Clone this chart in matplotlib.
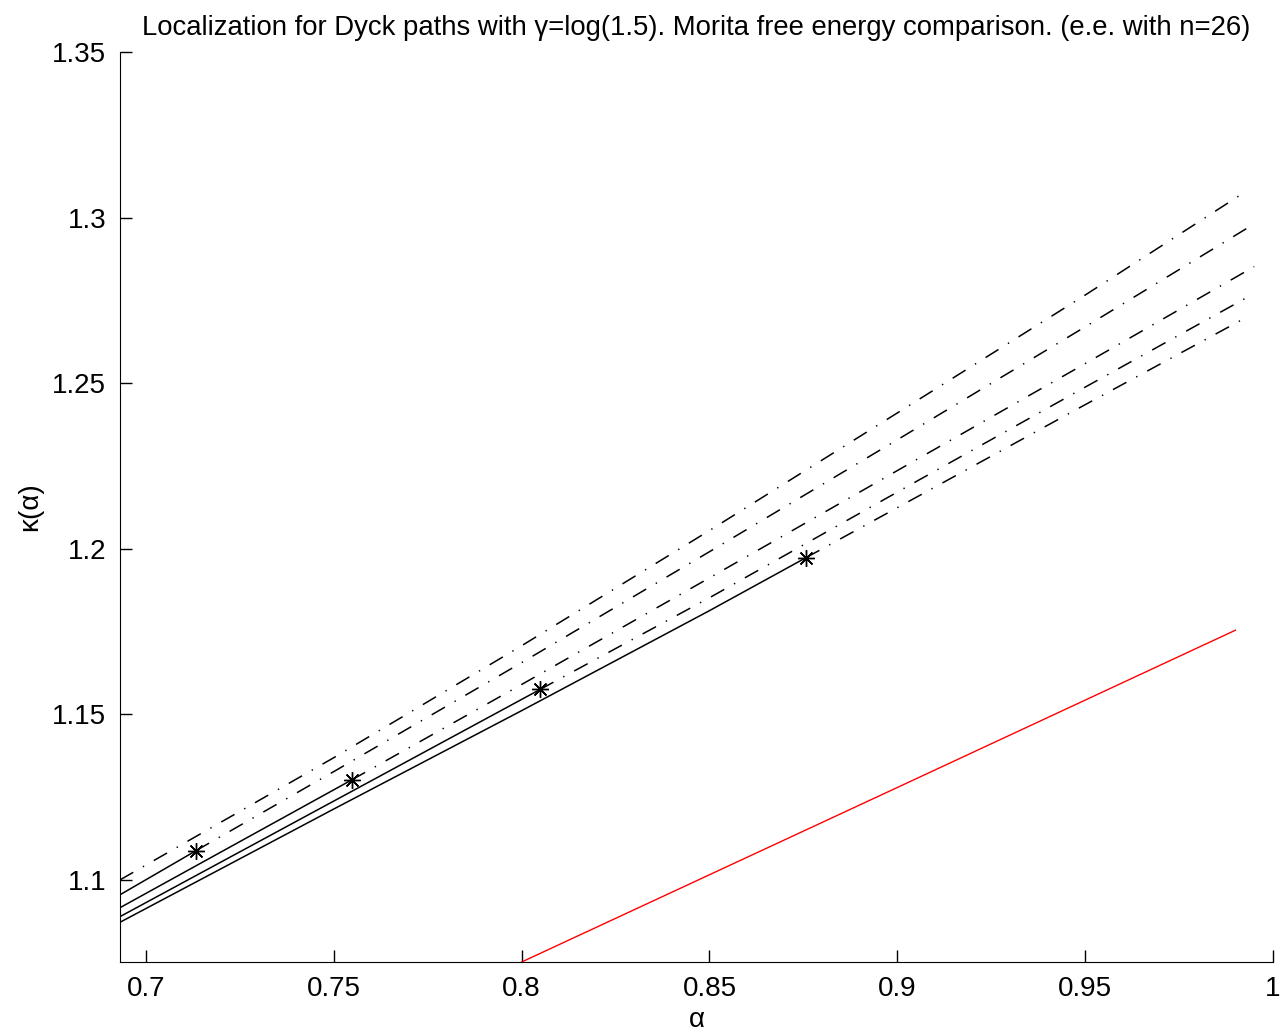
import matplotlib
matplotlib.use("Agg")
import matplotlib.pyplot as plt

plt.rcParams['font.family'] = ['Liberation Sans', 'DejaVu Sans']
plt.rcParams['lines.scale_dashes'] = False

# valores (alpha, kappa)
x_min = 0.6931
# linha 1: toda tracejada
l1_x = [0.6931, 0.75, 0.80, 0.85, 0.90, 0.95, 0.9932]
l1_y = [1.1000, 1.1369, 1.1707, 1.2055, 1.2410, 1.2766, 1.3082]
# linhas 2-5: parte cheia ate a estrela, depois tracejada
l2_sx = [0.6931, 0.7133]
l2_sy = [1.0955, 1.1088]
l2_dx = [0.7133, 0.75, 0.80, 0.85, 0.90, 0.95, 0.9947]
l2_dy = [1.1088, 1.1327, 1.1656, 1.1991, 1.2329, 1.2670, 1.2979]

l3_sx = [0.6931, 0.7548]
l3_sy = [1.0916, 1.1302]
l3_dx = [0.7548, 0.80, 0.85, 0.90, 0.95, 0.9950]
l3_dy = [1.1302, 1.1590, 1.1912, 1.2236, 1.2559, 1.2852]

l4_sx = [0.6931, 0.75, 0.8049]
l4_sy = [1.0889, 1.1238, 1.1575]
l4_dx = [0.8049, 0.85, 0.90, 0.95, 0.9931]
l4_dy = [1.1575, 1.1852, 1.2171, 1.2488, 1.2759]

l5_sx = [0.6931, 0.75, 0.80, 0.85, 0.8757]
l5_sy = [1.0872, 1.1214, 1.1511, 1.1813, 1.1973]
l5_dx = [0.8757, 0.90, 0.95, 0.9928]
l5_dy = [1.1973, 1.2124, 1.2435, 1.2698]

# estrelas
star_x = [0.7133, 0.7548, 0.8049, 0.8757]
star_y = [1.1088, 1.1302, 1.1575, 1.1973]

# curva de Morita (vermelha)
red_x = [0.80, 0.90, 0.99]
red_y = [1.0752, 1.1279, 1.1754]

xticks = [0.7, 0.75, 0.8, 0.85, 0.9, 0.95, 1]
yticks = [1.1, 1.15, 1.2, 1.25, 1.3, 1.35]

fig = plt.figure(figsize=(12.83, 10.32), dpi=100)
ax = fig.add_axes([0.0935, 0.0678, 0.8987, 0.8818])

dd = (0, (11, 8, 1, 8))
lw = 1.1
ax.plot(l1_x, l1_y, color='k', lw=lw, linestyle=dd)
for sx, sy, dx, dy in [(l2_sx, l2_sy, l2_dx, l2_dy), (l3_sx, l3_sy, l3_dx, l3_dy),
                       (l4_sx, l4_sy, l4_dx, l4_dy), (l5_sx, l5_sy, l5_dx, l5_dy)]:
    ax.plot(sx, sy, color='k', lw=lw)
    ax.plot(dx, dy, color='k', lw=lw, linestyle=dd)
ax.plot(star_x, star_y, linestyle='none', marker=(8, 2, 0), markersize=12,
        markeredgecolor='k', markeredgewidth=1.0, color='k')
ax.plot(red_x, red_y, color='r', lw=1.0)

ax.set_xlim(x_min, 1.0)
ax.set_ylim(1.0752, 1.35)
ax.set_xticks(xticks)
ax.set_xticklabels(['0.7', '0.75', '0.8', '0.85', '0.9', '0.95', '1'])
ax.set_yticks(yticks)
ax.set_yticklabels(['1.1', '1.15', '1.2', '1.25', '1.3', '1.35'])
ax.spines['top'].set_visible(False)
ax.spines['right'].set_visible(False)
ax.tick_params(direction='in', length=8.5, width=1, labelsize=20, pad=10)
ax.set_xlabel('α', fontsize=20, labelpad=4)
ax.set_ylabel('κ(α)', fontsize=20, labelpad=6)
ax.set_title('Localization for Dyck paths with γ=log(1.5). Morita free energy comparison. (e.e. with n=26)',
             fontsize=19.8, pad=12)

fig.savefig('out.png', dpi=100)
